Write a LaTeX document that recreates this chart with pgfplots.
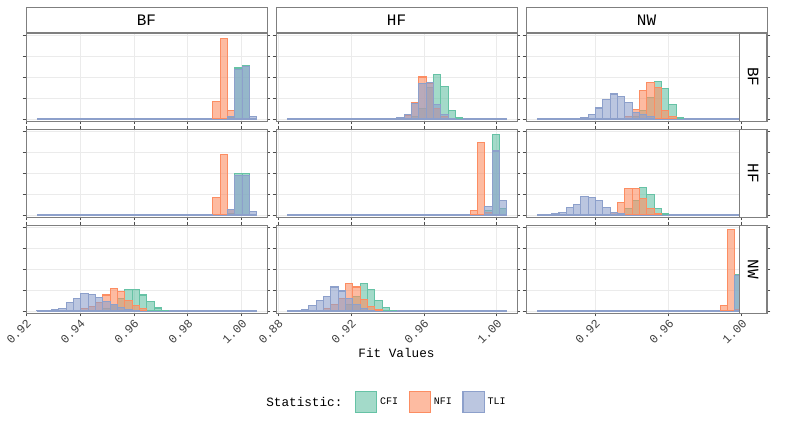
\documentclass[border=0pt]{standalone}
\usepackage{fontspec}
\setmainfont{Liberation Mono}
\usepackage{pgfplots}
\pgfplotsset{compat=1.18}
\usepgfplotslibrary{groupplots}
\definecolor{cfi}{HTML}{66C2A5}
\definecolor{nfi}{HTML}{FC8D62}
\definecolor{tli}{HTML}{8DA0CB}
\definecolor{gridc}{HTML}{EBEBEB}
\definecolor{frame}{HTML}{7F7F7F}
\pgfplotsset{
  panel/.style={width=180.75pt,height=66pt,scale only axis,
    xmin=-1.5,xmax=31.4,ymin=-0.1,ymax=4.1,ytick={0,1,2,3,4},yticklabels={},
    grid=major,major grid style={gridc,line width=0.6pt},
    axis line style={frame,line width=0.6pt},
    tick align=outside,major tick length=2.5pt,
    tick style={black!70,line width=0.6pt},
    xticklabels={},clip=false,
    /pgf/number format/assume math mode=true,
    ticklabel style={font=\fontsize{9}{10}\selectfont,black!75},
    legend image code/.code={\draw[#1,fill opacity=0.6,line width=0.8pt] (0pt,-8pt) rectangle (16pt,8pt);}},
  c1/.style={xtick={-1.5,5.867,13.23,20.6,27.96}},
  c2/.style={xtick={-1.23,8.73,18.69,28.65}},
  c3/.style={xtick={7.91,18.0,27.97}},
  bl1/.style={xticklabels={0.92,0.94,0.96,0.98,1.00}},
  bl2/.style={xticklabels={0.88,0.92,0.96,1.00}},
  bl3/.style={xticklabels={0.92,0.96,1.00}},
  bot/.style={xticklabel style={rotate=45,anchor=north east,inner sep=1pt}},
  hb/.style={ybar,bar width=1,bar shift=0,x filter/.expression={x+0.5},fill opacity=0.6,line width=0.8pt},
  C/.style={hb,draw=cfi,fill=cfi},
  N/.style={hb,draw=nfi,fill=nfi},
  T/.style={hb,draw=tli,fill=tli},
}
\newcommand{\base}{\addplot[sharp plot,tli,line width=1pt,forget plot] coordinates {(0,0)(30,0)};}
\newcommand{\topstrip}[1]{\node[draw=frame,fill=white,line width=0.6pt,minimum width=180.75pt,minimum height=18.75pt,inner sep=0pt,anchor=south,font=\fontsize{12}{12}\selectfont] at (rel axis cs:0.5,1) {#1};}
\newcommand{\sidestrip}[1]{\node[draw=frame,fill=white,line width=0.6pt,minimum width=66pt,minimum height=20.25pt,inner sep=0pt,anchor=north,rotate=-90,font=\fontsize{12}{12}\selectfont] at (rel axis cs:1,0.5) {#1};}
\begin{document}
\begin{tikzpicture}
\begin{groupplot}[group style={group size=3 by 3,horizontal sep=6.75pt,vertical sep=6pt},panel]
% row 1
\nextgroupplot[c1]
\coordinate (tl) at (rel axis cs:0,1);
\base
\addplot[C] coordinates {(26,0.05)(27,2.43)(28,2.57)(29,0)};
\addplot[N] coordinates {(24,0.82)(25,3.84)(26,0.4)(27,0)};
\addplot[T] coordinates {(26,0.12)(27,2.37)(28,2.49)(29,0.12)};
\topstrip{BF}
\nextgroupplot[c2]
\base
\addplot[C] coordinates {(17,0.1)(18,0.5)(19,1.5)(20,2.1)(21,1.54)(22,0.4)(23,0.05)};
\addplot[N] coordinates {(16,0.15)(17,0.8)(18,2.0)(19,1.7)(20,0.5)(21,0.1)};
\addplot[T] coordinates {(15,0.05)(16,0.19)(17,0.75)(18,1.67)(19,1.75)(20,0.7)(21,0.2)(22,0.03)};
\topstrip{HF}
\nextgroupplot[c3]
\base
\addplot[C] coordinates {(13,0.1)(14,0.4)(15,1.0)(16,1.8)(17,1.46)(18,0.67)(19,0.08)};
\addplot[N] coordinates {(12,0.1)(13,0.45)(14,1.35)(15,1.75)(16,1.5)(17,0.4)(18,0.1)};
\addplot[T] coordinates {(6,0.05)(7,0.2)(8,0.52)(9,0.94)(10,1.19)(11,1.06)(12,0.78)(13,0.3)(14,0.2)(15,0.1)};
\topstrip{NW}
\sidestrip{BF}
% row 2
\nextgroupplot[c1]
\base
\addplot[C] coordinates {(26,0.05)(27,1.97)(28,1.97)};
\addplot[N] coordinates {(24,0.82)(25,2.89)(26,0.24)};
\addplot[T] coordinates {(23,0.03)(26,0.24)(27,1.89)(28,1.89)(29,0.15)};
\nextgroupplot[c2]
\base
\addplot[C] coordinates {(27,0.2)(28,3.84)(29,0.3)};
\addplot[N] coordinates {(25,0.19)(26,3.44)(27,0.1)};
\addplot[T] coordinates {(27,0.38)(28,3.05)(29,0.67)};
\nextgroupplot[c3]
\base
\addplot[C] coordinates {(12,0.3)(13,0.7)(14,1.3)(15,0.98)(16,0.32)(17,0.05)};
\addplot[N] coordinates {(10,0.1)(11,0.59)(12,1.25)(13,1.25)(14,0.8)(15,0.3)(16,0.05)};
\addplot[T] coordinates {(2,0.05)(3,0.1)(4,0.35)(5,0.51)(6,0.87)(7,0.83)(8,0.67)(9,0.35)(10,0.1)(11,0.05)};
\sidestrip{HF}
% row 3
\nextgroupplot[c1,bl1,bot]
\base
\addplot[C] coordinates {(9,0.1)(10,0.3)(11,0.6)(12,1.03)(13,1.03)(14,0.76)(15,0.44)(16,0.14)(17,0.04)};
\addplot[N] coordinates {(6,0.1)(7,0.2)(8,0.4)(9,0.76)(10,1.08)(11,0.92)(12,0.5)(13,0.25)(14,0.1)};
\addplot[T] coordinates {(0,0.02)(1,0.03)(2,0.06)(3,0.13)(4,0.4)(5,0.6)(6,0.84)(7,0.8)(8,0.63)(9,0.45)(10,0.3)(11,0.15)(12,0.08)(13,0.03)};
\nextgroupplot[c2,bl2,bot,xlabel={Fit Values},xlabel style={font=\fontsize{9.5}{10}\selectfont,yshift=2pt},
  legend columns=3,legend style={at={(rel axis cs:0.31,-1.01)},anchor=west,draw=none,fill=none,
  font=\fontsize{7.5}{8}\selectfont,/tikz/every even column/.append style={column sep=6pt}}]
\base
\addplot[C] coordinates {(8,0.3)(9,0.7)(10,1.33)(11,1.03)(12,0.51)(13,0.16)(14,0.04)};
\addlegendentry{CFI}
\addplot[N] coordinates {(5,0.1)(6,0.3)(7,0.6)(8,1.3)(9,1.14)(10,0.56)(11,0.2)(12,0.05)};
\addlegendentry{NFI}
\addplot[T] coordinates {(2,0.05)(3,0.24)(4,0.48)(5,0.71)(6,1.14)(7,0.95)(8,0.6)(9,0.3)(10,0.1)(11,0.03)};
\addlegendentry{TLI}
\node[anchor=east,font=\fontsize{9.5}{10}\selectfont] at (rel axis cs:0.295,-1.01) {Statistic:};
\nextgroupplot[c3,bl3,bot]
\base
\addplot[C] coordinates {(27,1.76)(28,2.7)(29,0.1)};
\addplot[N] coordinates {(25,0.24)(26,3.89)(27,0.05)};
\addplot[T] coordinates {(27,1.71)(28,2.46)(29,0.1)};
\sidestrip{NW}
\end{groupplot}
\path[use as bounding box] ([xshift=-19.5pt,yshift=24.75pt]tl) rectangle ++(600pt,-321pt);
\end{tikzpicture}
\end{document}
